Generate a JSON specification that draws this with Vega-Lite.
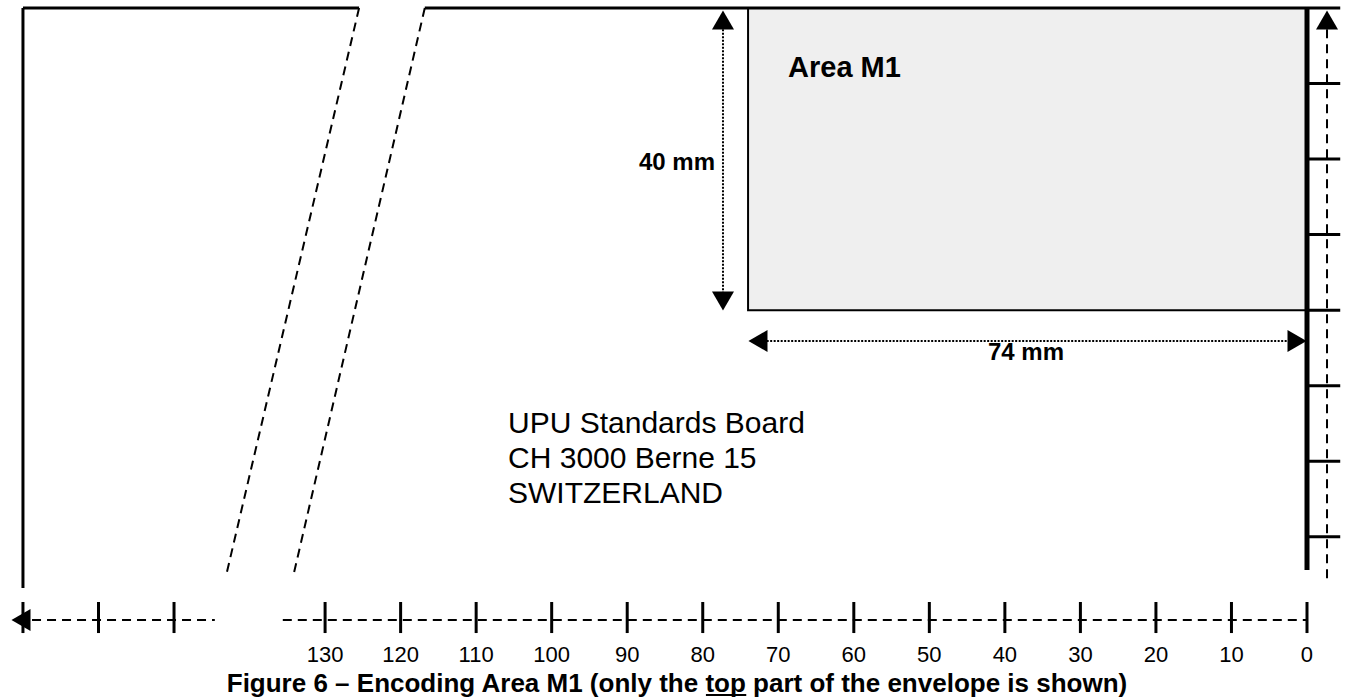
{
  "$schema": "https://vega.github.io/schema/vega-lite/v6.json",
  "width": 1347,
  "height": 698,
  "autosize": {"type": "fit", "contains": "padding"},
  "padding": 0,
  "background": "white",
  "config": {"view": {"stroke": null}},
  "datasets": {
    "lines": [
      {"part": "edge", "x": 170.0, "y": 0, "x2": 125.5, "y2": 0},
      {"part": "edge", "x": 116.8, "y": 0, "x2": 0, "y2": 0},
      {"part": "edge", "x": 170.0, "y": 0, "x2": 170.0, "y2": 76.8},
      {"part": "thick", "x": 0, "y": 0, "x2": 0, "y2": 74.4},
      {"part": "rtick", "x": 0, "y": 0, "x2": -4.4, "y2": 0},
      {"part": "rtick", "x": 0, "y": 10, "x2": -4.4, "y2": 10},
      {"part": "rtick", "x": 0, "y": 20, "x2": -4.4, "y2": 20},
      {"part": "rtick", "x": 0, "y": 30, "x2": -4.4, "y2": 30},
      {"part": "rtick", "x": 0, "y": 40, "x2": -4.4, "y2": 40},
      {"part": "rtick", "x": 0, "y": 50, "x2": -4.4, "y2": 50},
      {"part": "rtick", "x": 0, "y": 60, "x2": -4.4, "y2": 60},
      {"part": "rtick", "x": 0, "y": 70, "x2": -4.4, "y2": 70},
      {"part": "dashed", "x": 125.5, "y": 0, "x2": 143.0, "y2": 74.7},
      {"part": "dashed", "x": 116.8, "y": 0, "x2": 134.1, "y2": 74.7},
      {"part": "dashed", "x": -2.65, "y": 2.8, "x2": -2.65, "y2": 75.9},
      {"part": "dashed", "x": 168.8, "y": 81.03, "x2": 144.6, "y2": 81.03},
      {"part": "dashed", "x": 135.6, "y": 81.03, "x2": 0, "y2": 81.03},
      {"part": "dotted", "x": 77.32, "y": 2.8, "x2": 77.32, "y2": 37.7},
      {"part": "dotted", "x": 72.0, "y": 44.09, "x2": 2.3, "y2": 44.09},
      {"part": "btick", "x": 0, "y": 78.64, "x2": 0, "y2": 82.75},
      {"part": "btick", "x": 10, "y": 78.64, "x2": 10, "y2": 82.75},
      {"part": "btick", "x": 20, "y": 78.64, "x2": 20, "y2": 82.75},
      {"part": "btick", "x": 30, "y": 78.64, "x2": 30, "y2": 82.75},
      {"part": "btick", "x": 40, "y": 78.64, "x2": 40, "y2": 82.75},
      {"part": "btick", "x": 50, "y": 78.64, "x2": 50, "y2": 82.75},
      {"part": "btick", "x": 60, "y": 78.64, "x2": 60, "y2": 82.75},
      {"part": "btick", "x": 70, "y": 78.64, "x2": 70, "y2": 82.75},
      {"part": "btick", "x": 80, "y": 78.64, "x2": 80, "y2": 82.75},
      {"part": "btick", "x": 90, "y": 78.64, "x2": 90, "y2": 82.75},
      {"part": "btick", "x": 100, "y": 78.64, "x2": 100, "y2": 82.75},
      {"part": "btick", "x": 110, "y": 78.64, "x2": 110, "y2": 82.75},
      {"part": "btick", "x": 120, "y": 78.64, "x2": 120, "y2": 82.75},
      {"part": "btick", "x": 130, "y": 78.64, "x2": 130, "y2": 82.75},
      {"part": "btick", "x": 150, "y": 78.64, "x2": 150, "y2": 82.75},
      {"part": "btick", "x": 160, "y": 78.64, "x2": 160, "y2": 82.75},
      {"part": "btick", "x": 170, "y": 78.64, "x2": 170, "y2": 82.75},
      {"part": "underline", "x": 79.58, "y": 90.96, "x2": 74.24, "y2": 90.96}
    ],
    "area": [
      {"x": 0, "x2": 74, "y": 0, "y2": 40}
    ],
    "arrows": [
      {"dir": "up", "x": 77.32, "y": 1.59},
      {"dir": "down", "x": 77.32, "y": 38.79},
      {"dir": "left", "x": 72.69, "y": 44.09},
      {"dir": "right", "x": 1.32, "y": 44.09},
      {"dir": "up", "x": -2.65, "y": 1.59},
      {"dir": "left", "x": 170.26, "y": 81.03}
    ],
    "labels": [
      {"role": "area", "text": "Area M1", "x": 68.71, "y": 9.14},
      {"role": "dimv", "text": "40 mm", "x": 78.38, "y": 21.45},
      {"role": "dimh", "text": "74 mm", "x": 37.2, "y": 46.6},
      {"role": "address", "text": "UPU Standards Board", "x": 105.78, "y": 56.27},
      {"role": "address", "text": "CH 3000 Berne 15", "x": 105.78, "y": 60.9},
      {"role": "address", "text": "SWITZERLAND", "x": 105.78, "y": 65.54},
      {"role": "tick", "text": "0", "x": 0, "y": 86.59},
      {"role": "tick", "text": "10", "x": 10, "y": 86.59},
      {"role": "tick", "text": "20", "x": 20, "y": 86.59},
      {"role": "tick", "text": "30", "x": 30, "y": 86.59},
      {"role": "tick", "text": "40", "x": 40, "y": 86.59},
      {"role": "tick", "text": "50", "x": 50, "y": 86.59},
      {"role": "tick", "text": "60", "x": 60, "y": 86.59},
      {"role": "tick", "text": "70", "x": 70, "y": 86.59},
      {"role": "tick", "text": "80", "x": 80, "y": 86.59},
      {"role": "tick", "text": "90", "x": 90, "y": 86.59},
      {"role": "tick", "text": "100", "x": 100, "y": 86.59},
      {"role": "tick", "text": "110", "x": 110, "y": 86.59},
      {"role": "tick", "text": "120", "x": 120, "y": 86.59},
      {"role": "tick", "text": "130", "x": 130, "y": 86.59},
      {"role": "caption", "text": "Figure 6 – Encoding Area M1 (only the top part of the envelope is shown)", "x": 83.41, "y": 90.56}
    ]
  },
  "encoding": {
    "x": {"field": "x", "type": "quantitative", "scale": {"domain": [-5.296, 173.04], "reverse": true, "nice": false, "zero": false}, "axis": null},
    "y": {"field": "y", "type": "quantitative", "scale": {"domain": [-1.059, 91.35], "reverse": true, "nice": false, "zero": false}, "axis": null}
  },
  "layer": [
    {
      "data": {"name": "area"},
      "mark": {"type": "rect", "fill": "#efefef", "stroke": "black", "strokeWidth": 2},
      "encoding": {"x2": {"field": "x2"}, "y2": {"field": "y2"}}
    },
    {
      "data": {"name": "lines"},
      "transform": [{"filter": "datum.part === 'edge' || datum.part === 'rtick' || datum.part === 'btick'"}],
      "mark": {"type": "rule", "color": "black", "strokeWidth": 3},
      "encoding": {"x2": {"field": "x2"}, "y2": {"field": "y2"}}
    },
    {
      "data": {"name": "lines"},
      "transform": [{"filter": "datum.part === 'thick'"}],
      "mark": {"type": "rule", "color": "black", "strokeWidth": 5},
      "encoding": {"x2": {"field": "x2"}, "y2": {"field": "y2"}}
    },
    {
      "data": {"name": "lines"},
      "transform": [{"filter": "datum.part === 'dashed'"}],
      "mark": {"type": "rule", "color": "black", "strokeWidth": 2, "strokeDash": [9, 6]},
      "encoding": {"x2": {"field": "x2"}, "y2": {"field": "y2"}}
    },
    {
      "data": {"name": "lines"},
      "transform": [{"filter": "datum.part === 'dotted'"}],
      "mark": {"type": "rule", "color": "black", "strokeWidth": 2, "strokeDash": [2, 1.5]},
      "encoding": {"x2": {"field": "x2"}, "y2": {"field": "y2"}}
    },
    {
      "data": {"name": "lines"},
      "transform": [{"filter": "datum.part === 'underline'"}],
      "mark": {"type": "rule", "color": "black", "strokeWidth": 2},
      "encoding": {"x2": {"field": "x2"}, "y2": {"field": "y2"}}
    },
    {
      "data": {"name": "arrows"},
      "mark": {"type": "point", "filled": true, "color": "black", "opacity": 1, "size": 484, "strokeWidth": 0},
      "encoding": {
        "shape": {"field": "dir", "type": "nominal", "scale": {"domain": ["up", "down", "left", "right"], "range": ["triangle-up", "triangle-down", "triangle-left", "triangle-right"]}, "legend": null}
      }
    },
    {
      "data": {"name": "labels"},
      "transform": [{"filter": "datum.role === 'area'"}],
      "mark": {"type": "text", "font": "Liberation Sans", "fontSize": 29, "fontWeight": "bold", "align": "left", "baseline": "alphabetic", "color": "black"},
      "encoding": {"text": {"field": "text"}}
    },
    {
      "data": {"name": "labels"},
      "transform": [{"filter": "datum.role === 'dimv'"}],
      "mark": {"type": "text", "font": "Liberation Sans", "fontSize": 24, "fontWeight": "bold", "align": "right", "baseline": "alphabetic", "color": "black"},
      "encoding": {"text": {"field": "text"}}
    },
    {
      "data": {"name": "labels"},
      "transform": [{"filter": "datum.role === 'dimh'"}],
      "mark": {"type": "text", "font": "Liberation Sans", "fontSize": 24, "fontWeight": "bold", "align": "center", "baseline": "alphabetic", "color": "black"},
      "encoding": {"text": {"field": "text"}}
    },
    {
      "data": {"name": "labels"},
      "transform": [{"filter": "datum.role === 'address'"}],
      "mark": {"type": "text", "font": "Liberation Sans", "fontSize": 30, "align": "left", "baseline": "alphabetic", "color": "black"},
      "encoding": {"text": {"field": "text"}}
    },
    {
      "data": {"name": "labels"},
      "transform": [{"filter": "datum.role === 'tick'"}],
      "mark": {"type": "text", "font": "Liberation Sans", "fontSize": 22, "align": "center", "baseline": "alphabetic", "color": "black"},
      "encoding": {"text": {"field": "text"}}
    },
    {
      "data": {"name": "labels"},
      "transform": [{"filter": "datum.role === 'caption'"}],
      "mark": {"type": "text", "font": "Liberation Sans", "fontSize": 26, "fontWeight": "bold", "align": "center", "baseline": "alphabetic", "color": "black"},
      "encoding": {"text": {"field": "text"}}
    }
  ]
}
